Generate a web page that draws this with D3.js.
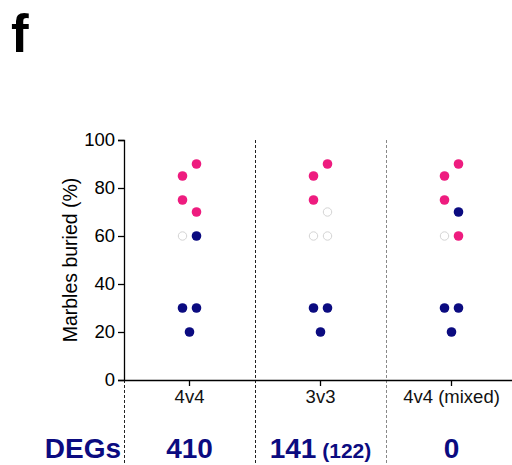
<!DOCTYPE html>
<html>
<head>
<meta charset="utf-8">
<script src="https://cdn.jsdelivr.net/npm/d3@7"></script>
<style>
  html, body { margin: 0; padding: 0; background: #fff; }
  svg { display: block; font-family: "Liberation Sans", Arial, sans-serif; }
</style>
</head>
<body>
<svg id="chart" width="512" height="465"></svg>
<script>
// Groups along the x axis
const groups = ["4v4", "3v3", "4v4 (mixed)"];
// Differentially expressed gene counts per group (secondary count in brackets)
const degCounts = ["410", "141", "0"];
const degSecondary = [null, "(122)", null];
const yTicks = [0, 20, 40, 60, 80, 100];

// Individual animals: group, percent of marbles buried, column (left/right), kind
const animalGroup = ["4v4","4v4","4v4","4v4","4v4","4v4","4v4","4v4","4v4",
                     "3v3","3v3","3v3","3v3","3v3","3v3","3v3","3v3","3v3",
                     "4v4 (mixed)","4v4 (mixed)","4v4 (mixed)","4v4 (mixed)","4v4 (mixed)","4v4 (mixed)","4v4 (mixed)","4v4 (mixed)","4v4 (mixed)"];
const animalValue = [90, 85, 75, 70, 60, 60, 30, 30, 20,
                     90, 85, 75, 70, 60, 60, 30, 30, 20,
                     90, 85, 75, 70, 60, 60, 30, 30, 20];
const animalSide  = [1, -1, -1, 1, -1, 1, -1, 1, 0,
                     1, -1, -1, 1, -1, 1, -1, 1, 0,
                     1, -1, -1, 1, -1, 1, -1, 1, 0];
const animalKind  = ["pink","pink","pink","pink","open","navy","navy","navy","navy",
                     "pink","pink","pink","open","open","open","navy","navy","navy",
                     "pink","pink","pink","navy","open","pink","navy","navy","navy"];

const fills = { pink: "#EE1C7F", navy: "#0B0B80", open: "#ffffff" };
const strokes = { pink: "none", navy: "none", open: "#d4d4d4" };

const svg = d3.select("#chart");

const x = d3.scaleBand().domain(groups).range([124, 517]).padding(0);
const y = d3.scaleLinear().domain([0, 100]).range([380, 140]);

// Panel letter
svg.append("text")
  .attr("x", 11).attr("y", 52)
  .attr("font-size", 53).attr("font-weight", "bold")
  .attr("fill", "#000")
  .text("f");

// Dashed separators between groups
const seps = [
  { x: x.range()[0], y1: 380, color: "#222" },
  { x: x("3v3"), y1: 140, color: "#222" },
  { x: x("4v4 (mixed)"), y1: 140, color: "#888" }
];
svg.append("g").selectAll("line").data(seps).join("line")
  .attr("x1", d => d.x + 0.5).attr("x2", d => d.x + 0.5)
  .attr("y1", d => d.y1).attr("y2", 465)
  .attr("stroke", d => d.color)
  .attr("stroke-width", 1)
  .attr("stroke-dasharray", "3,2");

// Y axis
const yAxis = svg.append("g")
  .attr("transform", `translate(${x.range()[0]},0)`)
  .call(d3.axisLeft(y).tickValues(yTicks).tickSize(6).tickPadding(3));
yAxis.select(".domain").attr("stroke", "#000").attr("stroke-width", 1.3);
yAxis.selectAll(".tick line").attr("stroke", "#000").attr("stroke-width", 1.3);
yAxis.selectAll(".tick text").attr("font-size", 18.5).attr("fill", "#000")
  .attr("font-family", "Liberation Sans, Arial, sans-serif");

// X axis
const xAxis = svg.append("g")
  .attr("transform", `translate(0,${y(0)})`)
  .call(d3.axisBottom(x).tickSize(6).tickPadding(4).tickSizeOuter(0));
xAxis.select(".domain").attr("stroke", "#000").attr("stroke-width", 1.3);
xAxis.selectAll(".tick line").attr("stroke", "#000").attr("stroke-width", 1.3);
xAxis.selectAll(".tick text").attr("font-size", 18.5).attr("fill", "#111")
  .attr("font-family", "Liberation Sans, Arial, sans-serif");

// Y axis title
svg.append("text")
  .attr("transform", `translate(77,${(y(0) + y(100)) / 2}) rotate(-90)`)
  .attr("text-anchor", "middle")
  .attr("font-size", 19.5).attr("fill", "#000")
  .text("Marbles buried (%)");

// Points
const animals = animalValue.map((v, i) => ({
  group: animalGroup[i], value: v, side: animalSide[i], kind: animalKind[i]
}));
svg.append("g").selectAll("circle").data(animals).join("circle")
  .attr("cx", d => x(d.group) + x.bandwidth() / 2 + d.side * 7)
  .attr("cy", d => y(d.value))
  .attr("r", d => d.kind === "open" ? 4.2 : 4.8)
  .attr("fill", d => fills[d.kind])
  .attr("stroke", d => strokes[d.kind])
  .attr("stroke-width", 1);

// DEG row
const degColor = "#0B0B80";
svg.append("text")
  .attr("x", 121).attr("y", 458)
  .attr("text-anchor", "end")
  .attr("font-size", 28).attr("font-weight", "bold")
  .attr("fill", degColor)
  .text("DEGs");

const deg = svg.append("g").selectAll("text").data(groups).join("text")
  .attr("x", d => x(d) + x.bandwidth() / 2)
  .attr("y", 458)
  .attr("text-anchor", "middle")
  .attr("font-weight", "bold")
  .attr("fill", degColor);
deg.append("tspan")
  .attr("font-size", 28)
  .text((d, i) => degCounts[i]);
deg.filter((d, i) => degSecondary[i] !== null).append("tspan")
  .attr("font-size", 21)
  .text(d => "\u00a0" + degSecondary[groups.indexOf(d)]);
</script>
</body>
</html>
